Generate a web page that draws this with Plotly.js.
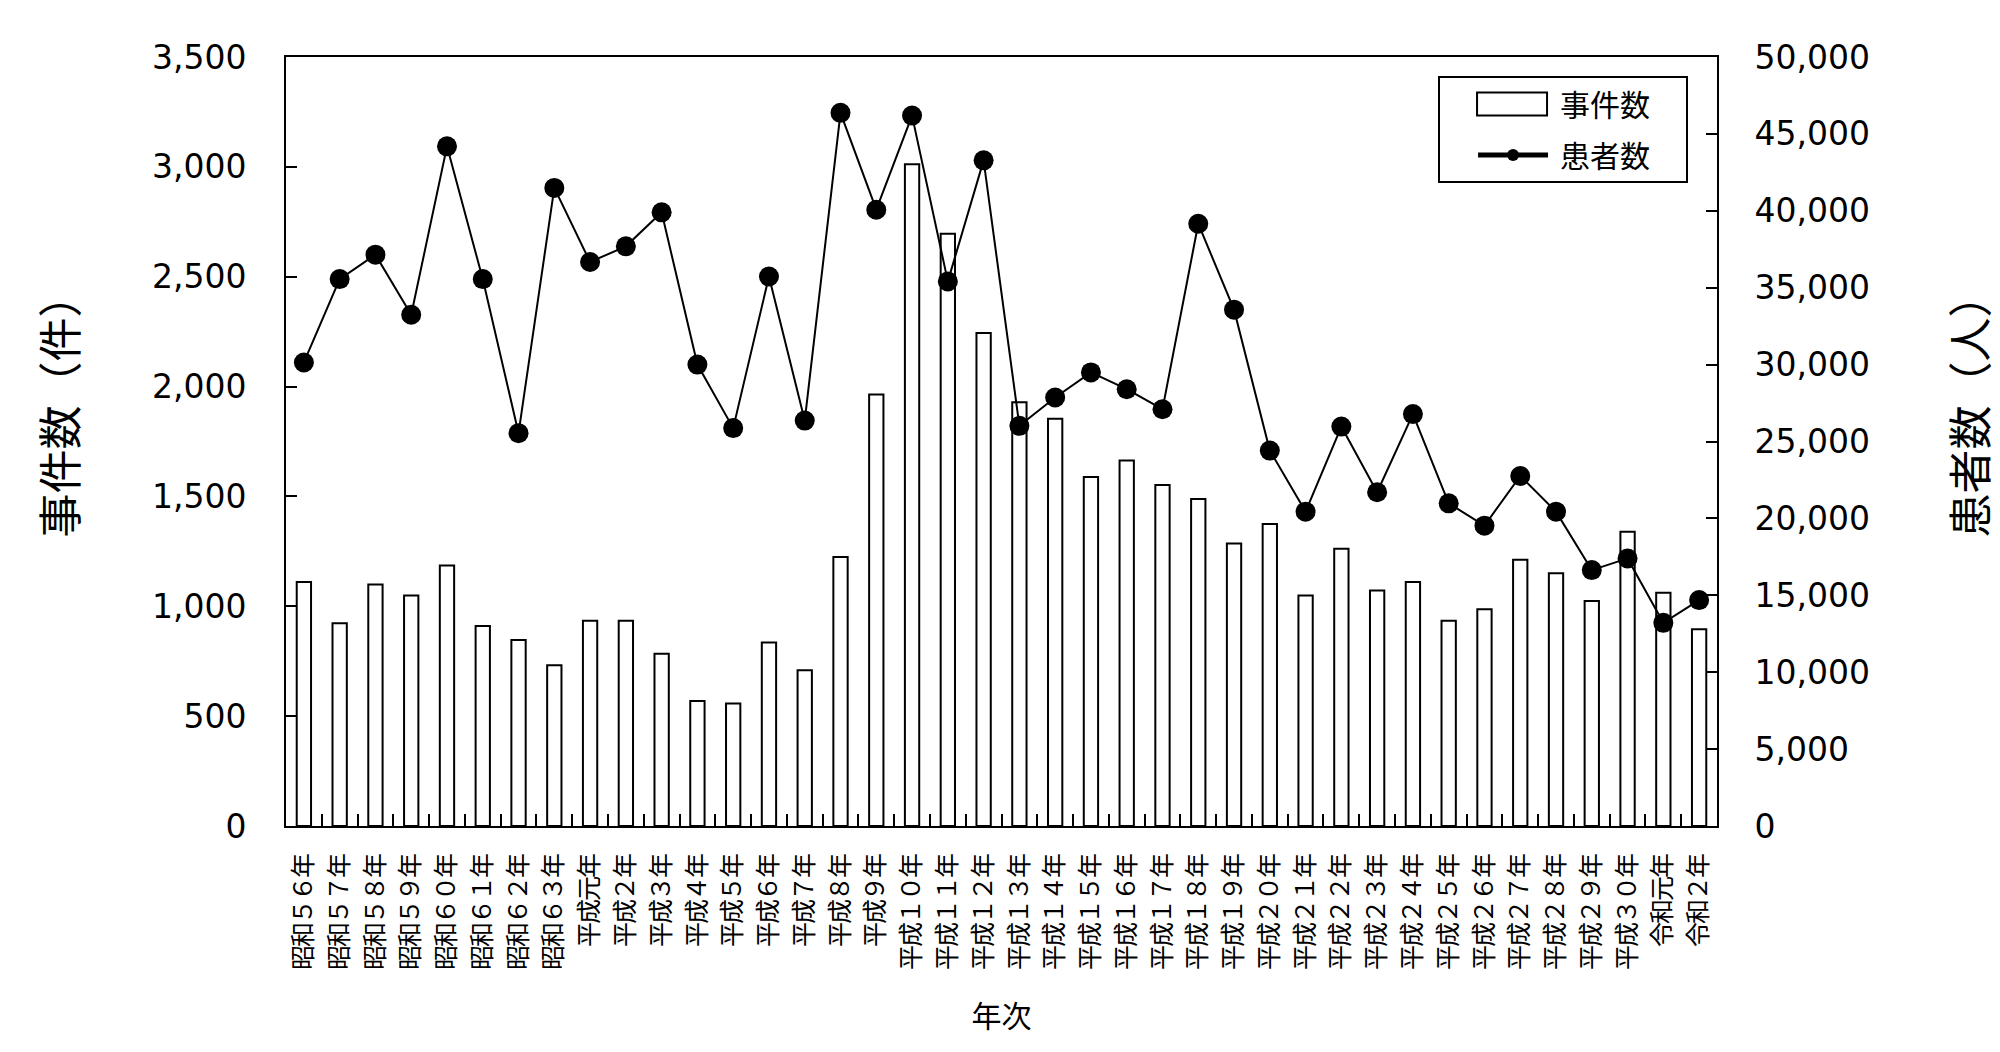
<!DOCTYPE html>
<html>
<head>
<meta charset="utf-8">
<script src="https://cdn.plot.ly/plotly-3.0.1.min.js"></script>
<style>
  html, body { margin: 0; padding: 0; background: #fff; }
  #chart { width: 2000px; height: 1052px; }
  #chart .g-ytitle, #chart .g-y2title { transform: translate(0px, -36px); }
  #chart .xtick text { letter-spacing: -2px; }
</style>
</head>
<body>
<div id="chart"></div>
<script>
const years = [
  "昭和５６年", "昭和５７年", "昭和５８年", "昭和５９年", "昭和６０年",
  "昭和６１年", "昭和６２年", "昭和６３年", "平成元年", "平成２年",
  "平成３年", "平成４年", "平成５年", "平成６年", "平成７年",
  "平成８年", "平成９年", "平成１０年", "平成１１年", "平成１２年",
  "平成１３年", "平成１４年", "平成１５年", "平成１６年", "平成１７年",
  "平成１８年", "平成１９年", "平成２０年", "平成２１年", "平成２２年",
  "平成２３年", "平成２４年", "平成２５年", "平成２６年", "平成２７年",
  "平成２８年", "平成２９年", "平成３０年", "令和元年", "令和２年"
];
const incidents = [
  1110, 923, 1099, 1049, 1186, 910, 847, 732, 934, 934,
  784, 569, 557, 835, 709, 1224, 1964, 3012, 2695, 2244,
  1929, 1853, 1588, 1664, 1552, 1488, 1286, 1374, 1049, 1262,
  1072, 1110, 934, 986, 1212, 1150, 1024, 1339, 1062, 896
];
const patients = [
  30140, 35560, 37150, 33240, 44190, 35560, 25540, 41490, 36670, 37690,
  39900, 30000, 25870, 35730, 26360, 46370, 40070, 46190, 35410, 43280,
  26020, 27860, 29490, 28400, 27100, 39160, 33570, 24410, 20440, 25970,
  21700, 26780, 20980, 19530, 22760, 20440, 16640, 17400, 13210, 14690
];
const seriesNames = ["事件数", "患者数"];
const axisTitles = { x: "年次", y: "事件数（件）", y2: "患者数（人）" };

const FONT = "'Noto Sans CJK JP', 'Noto Sans', sans-serif";
const NUMFONT = "'DejaVu Sans', 'Noto Sans', sans-serif";

const traces = [
  {
    type: "bar",
    name: seriesNames[0],
    x: years,
    y: incidents,
    legendgroup: "a",
    marker: { color: "#ffffff", line: { color: "#000000", width: 2 } },
    hoverinfo: "x+y"
  },
  {
    type: "scatter",
    mode: "lines+markers",
    name: seriesNames[1],
    x: years,
    y: patients,
    yaxis: "y2",
    legendgroup: "b",
    line: { color: "#000000", width: 2 },
    marker: { color: "#000000", size: 20 },
    hoverinfo: "x+y"
  }
];

const yCommon = {
  showgrid: false,
  zeroline: false,
  showline: true,
  linecolor: "#000000",
  linewidth: 2,
  ticks: "inside",
  ticklen: 11,
  tickwidth: 2,
  tickcolor: "#000000",
  tickformat: ",d",
  tickfont: { family: NUMFONT, size: 33, color: "#000000" }
};

const layout = {
  width: 2000,
  height: 1052,
  margin: { l: 286, r: 283, t: 57, b: 226 },
  paper_bgcolor: "#ffffff",
  plot_bgcolor: "#ffffff",
  font: { family: FONT, color: "#000000" },
  bargap: 0.6,
  showlegend: true,
  legend: {
    x: 0.9581, xanchor: "right",
    y: 0.9753, yanchor: "top",
    bgcolor: "#ffffff",
    bordercolor: "#000000",
    borderwidth: 2,
    font: { family: FONT, size: 30, color: "#000000" },
    itemwidth: 110,
    itemsizing: "constant",
    traceorder: "grouped",
    tracegroupgap: 9
  },
  xaxis: {
    type: "category",
    range: [-0.5, 39.5],
    showgrid: false,
    showline: true,
    linecolor: "#000000",
    linewidth: 2,
    mirror: true,
    ticks: "inside",
    tickson: "boundaries",
    ticklen: 12,
    tickwidth: 2,
    tickcolor: "#000000",
    tickangle: -90,
    ticklabelstandoff: 17,
    tickfont: { family: FONT, size: 25, color: "#000000" },
    title: { text: axisTitles.x, font: { family: FONT, size: 30 }, standoff: 27 }
  },
  yaxis: Object.assign({}, yCommon, {
    range: [0, 3500],
    dtick: 500,
    ticklabelstandoff: 31,
    title: { text: axisTitles.y, font: { family: FONT, size: 44 }, standoff: 61 }
  }),
  yaxis2: Object.assign({}, yCommon, {
    range: [0, 50000],
    dtick: 5000,
    overlaying: "y",
    side: "right",
    ticklabelstandoff: 29,
    title: { text: axisTitles.y2, font: { family: FONT, size: 44 }, standoff: 87 }
  })
};

Plotly.newPlot("chart", traces, layout, { staticPlot: true, displayModeBar: false }).then(function (gd) {
  // Restyle legend symbols to match the reference (wide open box for bars, longer line for the series)
  const items = gd.querySelectorAll(".legend .traces");
  if (items.length >= 2) {
    items[0].querySelectorAll(".legendpoints path").forEach(function (p) {
      p.setAttribute("d", "M-35,-11.5h70v23h-70Z");
      p.setAttribute("transform", "translate(72,0)");
      p.style.strokeWidth = "2px";
    });
    items[1].querySelectorAll(".legendlines path").forEach(function (p) {
      p.setAttribute("d", "M38,0h70");
    });
    items[1].querySelectorAll(".legendsymbols .legendpoints path").forEach(function (p) {
      p.setAttribute("transform", "translate(73,0)");
    });
  }
  const bg = gd.querySelector(".legend rect.bg");
  if (bg) {
    const w = parseFloat(bg.getAttribute("width"));
    bg.setAttribute("width", String(w + 31));
  }
});
</script>
</body>
</html>
